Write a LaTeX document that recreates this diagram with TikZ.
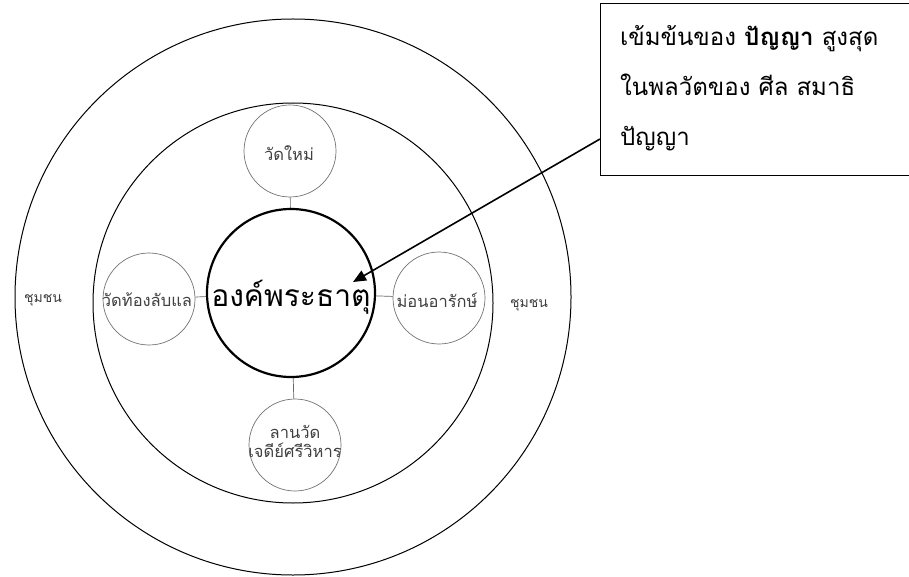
\documentclass[tikz,border=0pt]{standalone}
\usepackage{fontspec}
\newfontfamily\thai[Script=Thai]{Loma}
\usetikzlibrary{arrows.meta}
\begin{document}
\begin{tikzpicture}[x=1pt,y=-1pt,
  ring/.style={circle,draw=black,line width=1pt,inner sep=0pt},
  sub/.style={circle,draw=black!55,line width=0.7pt,minimum size=92pt,inner sep=0pt},
  subtext/.style={font=\thai\fontsize{16.5}{19}\selectfont,text=black!75,inner sep=0pt,align=center},
  link/.style={draw=black!60,line width=0.7pt},
  lbl/.style={font=\thai\fontsize{14}{16}\selectfont,text=black!75},
  boxtext/.style={font=\thai\fontsize{24}{50}\selectfont,align=left,anchor=north west,inner sep=0pt}]
\useasboundingbox (0,0) rectangle (909,577);
\fill[white] (0,0) rectangle (909,577);
\node[ring,minimum size=556pt] (outer) at (293,297) {};
\node[ring,minimum size=400pt] (middle) at (293,303) {};
\node[circle,draw=black,line width=2.2pt,minimum size=168pt,inner sep=0pt] (core) at (291,293) {};
\node[font=\thai\fontsize{30}{34}\selectfont,inner sep=0pt] (coretext) at (291,297) {องค์พระธาตุ};
\node[sub] (top) at (290,151) {};
\node[sub] (left) at (149,299) {};
\node[sub] (right) at (439,298) {};
\node[sub] (bottom) at (295,445) {};
\node[subtext] (toptext) at (289,153) {วัดใหม่};
\node[subtext] (lefttext) at (147,300) {วัดท้องลับแล};
\node[subtext] (righttext) at (437,300) {ม่อนอารักษ์};
\node[subtext] (bottomtext) at (295,441) {ลานวัด\\เจดีย์ศรีวิหาร};
\path[link] (top) -- (core);
\path[link] (left) -- (core);
\path[link] (right) -- (core);
\path[link] (bottom) -- (core);
\node[lbl] (c1) at (43,300) {ชุมชน};
\node[lbl] (c2) at (529,305) {ชุมชน};
\node[draw=black,line width=0.8pt,minimum width=310pt,minimum height=172pt,anchor=north west,inner sep=0pt] (box) at (600,3) {};
\node[boxtext] (bt) at (620,25) {เข้มข้นของ \textbf{ปัญญา} สูงสุด\\ในพลวัตของ ศีล สมาธิ\\ปัญญา};
\coordinate (tip) at (353,282);
\draw[line width=1.6pt,-{Triangle[length=13pt,width=11pt]}] (box.west |- 0,139) -- (tip);
\end{tikzpicture}
\end{document}
